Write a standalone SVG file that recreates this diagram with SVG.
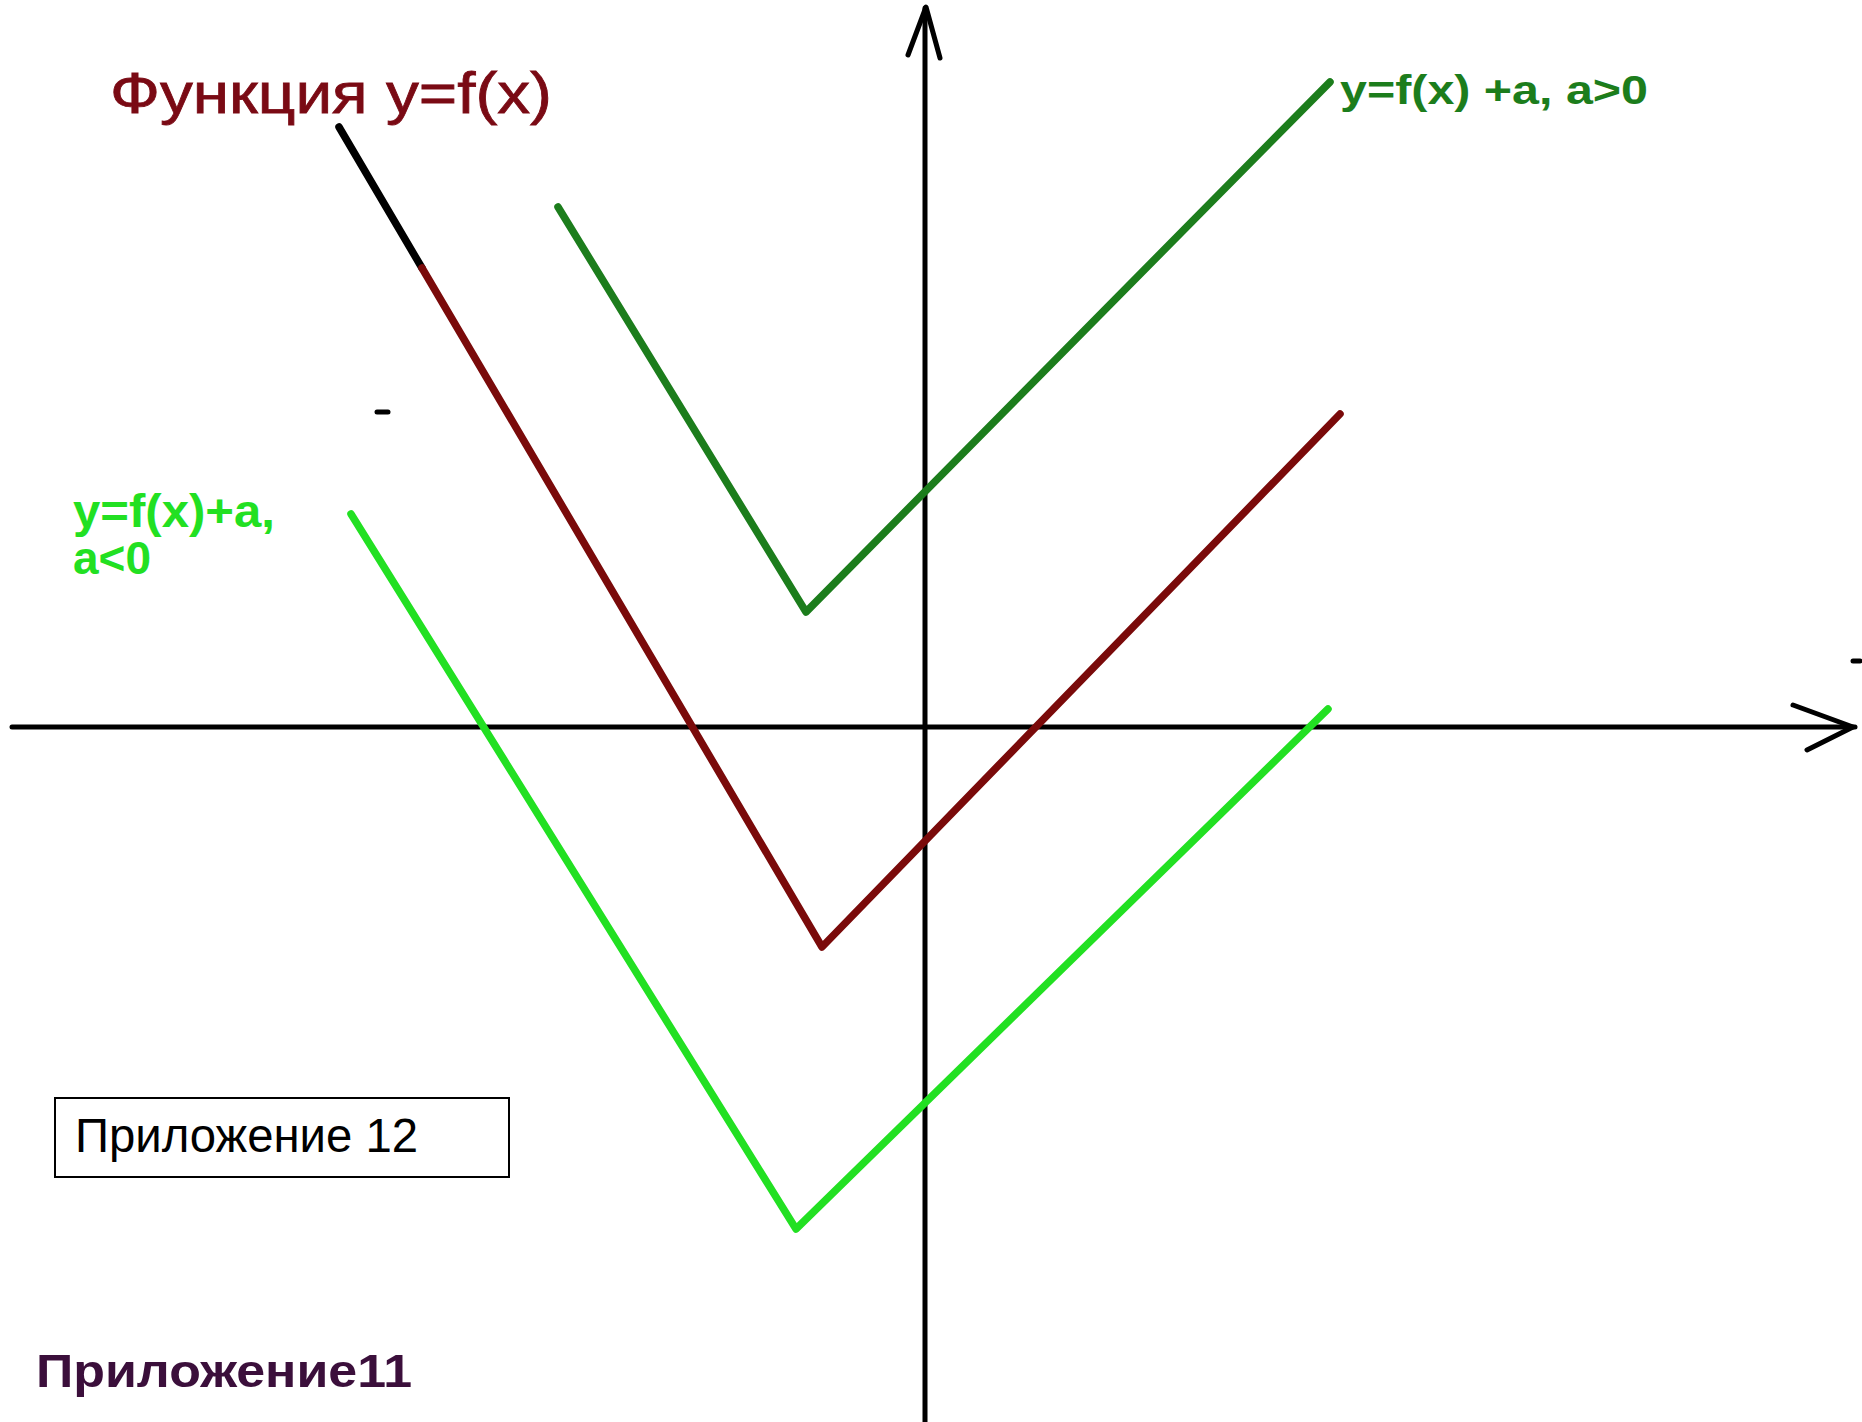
<svg xmlns="http://www.w3.org/2000/svg" width="1862" height="1422" viewBox="0 0 1862 1422">
<style>
.ax{stroke:#000;stroke-width:5;fill:none;stroke-linecap:round;stroke-linejoin:round}
.ln{fill:none;stroke-width:7.5;stroke-linecap:round;stroke-linejoin:round}
.t{font-family:"Liberation Sans",Arial,sans-serif}
</style>
<rect width="1862" height="1422" fill="#fff"/>
<g id="connectors">
<g id="axes">
<line class="ax" x1="12" y1="727" x2="1855" y2="727"/>
<polyline class="ax" points="1793,705 1853,727 1807,750"/>
<line class="ax" x1="925" y1="1422" x2="925" y2="8"/>
<polyline class="ax" points="908,55 926,7 940,58"/>
<line class="ax" x1="377" y1="412" x2="388" y2="412"/>
<line class="ax" x1="1853" y1="661" x2="1860" y2="661"/>
</g>
<g id="f">
<polyline class="ln" stroke="#000" points="339,127 422,268"/>
<polyline class="ln" stroke="#7a0a0a" points="422,268 822,947 1340,414"/>
</g>
<g id="f-plus">
<polyline class="ln" stroke="#1c7d1c" points="558,207 806,612 1330,82"/>
</g>
<g id="f-minus">
<polyline class="ln" stroke="#22e022" points="351,514 796,1229 1328,709"/>
</g>
</g>
<g id="label-f"><text class="t" x="110" y="113" font-size="58" fill="#7a0a14" stroke="#7a0a14" stroke-width="0.8" textLength="442" lengthAdjust="spacingAndGlyphs">Функция y=f(x)</text></g>
<g id="label-plus"><text class="t" x="1340" y="104" font-size="40" font-weight="bold" fill="#1c7d1c" textLength="308" lengthAdjust="spacingAndGlyphs">y=f(x) +a, a&gt;0</text></g>
<g id="label-minus"><text class="t" x="73" y="527" font-size="46" font-weight="bold" fill="#22e022" textLength="202" lengthAdjust="spacingAndGlyphs">y=f(x)+a,</text><text class="t" x="73" y="574" font-size="46" font-weight="bold" fill="#22e022">a&lt;0</text></g>
<g id="box12"><rect x="55" y="1098" width="454" height="79" fill="#fff" stroke="#000" stroke-width="2"/><text class="t" x="75" y="1152" font-size="48" fill="#000" textLength="343" lengthAdjust="spacingAndGlyphs">Приложение 12</text></g>
<g id="label11"><text class="t" x="36" y="1387" font-size="46" font-weight="bold" fill="#3b0f3b" textLength="376" lengthAdjust="spacingAndGlyphs">Приложение11</text></g>
</svg>
